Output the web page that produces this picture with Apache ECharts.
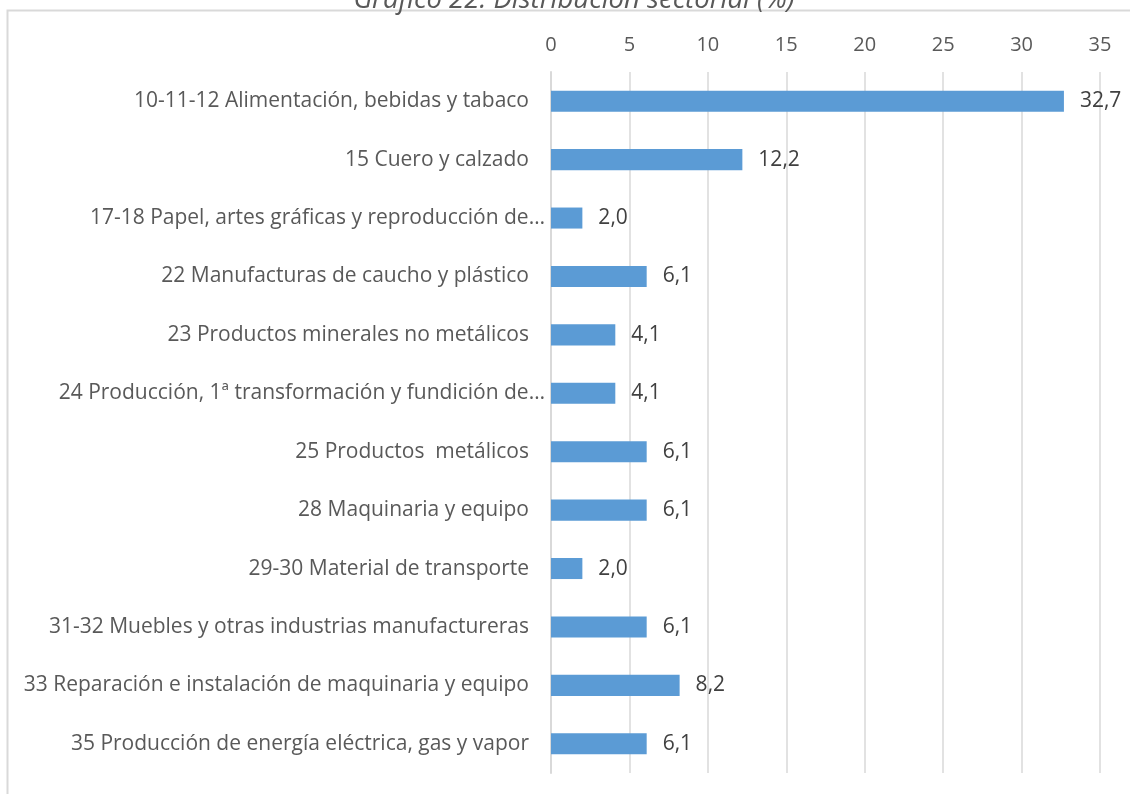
<!DOCTYPE html>
<html>
<head>
<meta charset="utf-8">
<script src="https://cdn.jsdelivr.net/npm/echarts@6/dist/echarts.min.js"></script>
<style>
  html, body { margin: 0; padding: 0; background: #fff; }
  #chart { width: 1131px; height: 794px; }
</style>
</head>
<body>
<div id="chart"></div>
<script>
// Gráfico 22. Distribución sectorial (%)

const titulo = 'Gráfico 22. Distribución sectorial (%)';
const sectores = [
    '10-11-12 Alimentación, bebidas y tabaco',
    '15 Cuero y calzado',
    '17-18 Papel, artes gráficas y reproducción de…',
    '22 Manufacturas de caucho y plástico',
    '23 Productos minerales no metálicos',
    '24 Producción, 1ª transformación y fundición de…',
    '25 Productos  metálicos',
    '28 Maquinaria y equipo',
    '29-30 Material de transporte',
    '31-32 Muebles y otras industrias manufactureras',
    '33 Reparación e instalación de maquinaria y equipo',
    '35 Producción de energía eléctrica, gas y vapor'
];
const porcentajes = [32.7, 12.2, 2.0, 6.1, 4.1, 4.1, 6.1, 6.1, 2.0, 6.1, 8.2, 6.1];

const fuente = 'Open Sans';

let chart = echarts.init(document.getElementById('chart'));

let option = {
    backgroundColor: '#fff',
    animation: false,
    graphic: [
        {
            type: 'polyline',
            shape: { points: [[7.5, 800], [7.5, 10.5], [1130, 10.5]] },
            style: { stroke: '#d9d9d9', lineWidth: 2, fill: null }
        },
        {
            // el título queda recortado por el borde superior
            type: 'text',
            x: 574,
            y: 14,
            style: {
                text: titulo,
                fontFamily: fuente,
                fontStyle: 'italic',
                fontSize: 27.5,
                fill: '#595959',
                align: 'center',
                verticalAlign: 'bottom'
            }
        }
    ],
    grid: {
        left: 551,
        right: 31,
        top: 72,
        bottom: 21,
        containLabel: false
    },
    xAxis: {
        type: 'value',
        position: 'top',
        min: 0,
        max: 35,
        interval: 5,
        axisLine: { show: false },
        axisTick: { show: false },
        axisLabel: {
            margin: 17,
            fontFamily: fuente,
            fontSize: 20,
            color: '#595959'
        },
        splitLine: { lineStyle: { color: '#d9d9d9', width: 1.5 } }
    },
    yAxis: {
        type: 'category',
        inverse: true,
        data: sectores,
        axisLine: { show: true, lineStyle: { color: '#d9d9d9', width: 2 } },
        axisTick: { show: false },
        axisLabel: {
            margin: 22,
            fontFamily: fuente,
            fontSize: 21,
            color: '#595959',
            // las etiquetas recortadas llegan casi hasta el eje
            formatter: v => v.endsWith('…') ? '{c|' + v + '}' : v,
            rich: {
                c: {
                    fontFamily: fuente,
                    fontSize: 21,
                    color: '#595959',
                    padding: [0, -16, 0, 0]
                }
            }
        }
    },
    series: [
        {
            type: 'bar',
            data: porcentajes,
            barWidth: '36%',
            itemStyle: { color: '#5b9bd5' },
            label: {
                show: true,
                position: 'right',
                distance: 16,
                fontFamily: fuente,
                fontSize: 21,
                color: '#404040',
                formatter: p => p.value.toFixed(1).replace('.', ',')
            }
        }
    ]
};

chart.setOption(option);
</script>
</body>
</html>
